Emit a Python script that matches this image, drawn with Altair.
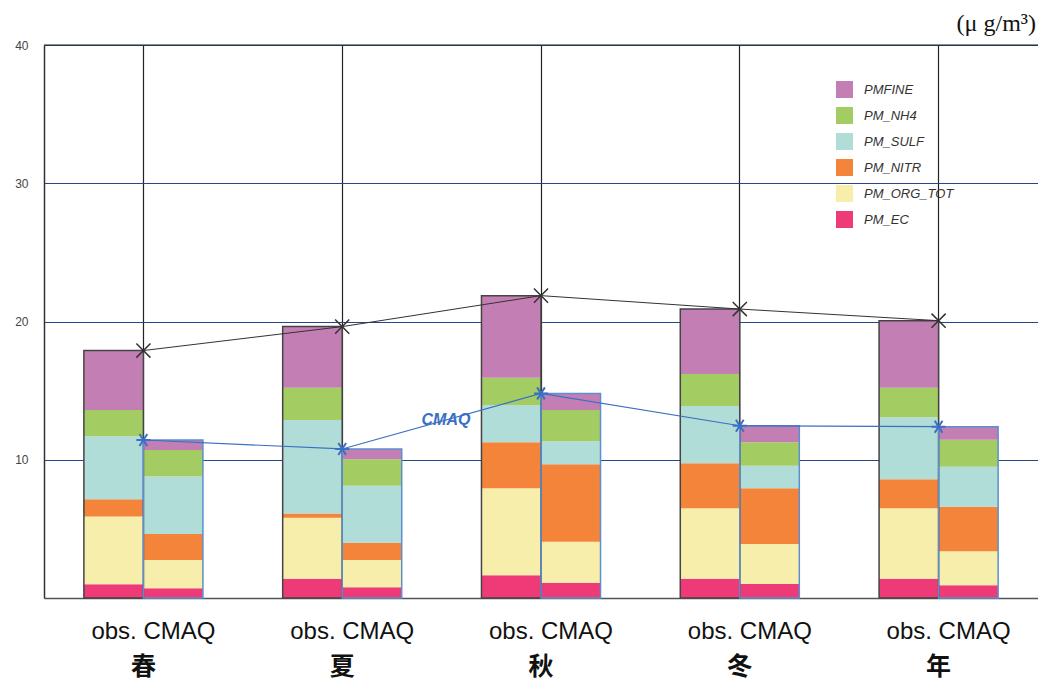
import altair as alt
import pandas as pd

seasons = ["春", "夏", "秋", "冬", "年"]
models = ["obs", "CMAQ"]
species = ["PM_EC", "PM_ORG_TOT", "PM_NITR", "PM_SULF", "PM_NH4", "PMFINE"]  # bottom -> top
legend_order = ["PMFINE", "PM_NH4", "PM_SULF", "PM_NITR", "PM_ORG_TOT", "PM_EC"]
legend_colors = ["#c37fb3", "#a3cd62", "#b0ddd8", "#f48439", "#f7eeac", "#ef3a78"]

obs_ec = [1.0, 1.4, 1.64, 1.4, 1.4]
obs_org = [4.9, 4.41, 6.29, 5.09, 5.09]
obs_nitr = [1.25, 0.31, 3.33, 3.25, 2.1]
obs_sulf = [4.55, 6.76, 2.70, 4.15, 4.48]
obs_nh4 = [1.9, 2.33, 1.98, 2.31, 2.14]
obs_fine = [4.3, 4.42, 5.93, 4.7, 4.85]

cmaq_ec = [0.7, 0.77, 1.11, 1.01, 0.92]
cmaq_org = [2.05, 1.98, 2.96, 2.9, 2.46]
cmaq_nitr = [1.88, 1.25, 5.6, 4.02, 3.22]
cmaq_sulf = [4.15, 4.12, 1.66, 1.64, 2.9]
cmaq_nh4 = [1.92, 1.91, 2.27, 1.69, 1.95]
cmaq_fine = [0.73, 0.75, 1.2, 1.2, 0.94]

obs = dict(zip(species, [obs_ec, obs_org, obs_nitr, obs_sulf, obs_nh4, obs_fine]))
cmaq = dict(zip(species, [cmaq_ec, cmaq_org, cmaq_nitr, cmaq_sulf, cmaq_nh4, cmaq_fine]))

rows, tot_rows = [], []
for i, s in enumerate(seasons):
    for m, d in (("obs", obs), ("CMAQ", cmaq)):
        base = 0.0
        for sp in species:
            v = d[sp][i]
            rows.append(dict(season=s, model=m, species=sp, y0=base, y1=base + v))
            base += v
        tot_rows.append(dict(season=s, model=m, total=round(base, 3)))
seg = pd.DataFrame(rows)
tot = pd.DataFrame(tot_rows)

xscale = alt.Scale(domain=seasons, paddingInner=0, paddingOuter=0)
xaxis = alt.Axis(title=None, bandPosition=0.5, grid=True, gridColor="#222222", gridWidth=1.2,
                 ticks=False, domain=True, domainColor="#555555", domainWidth=1.5,
                 labelFont="Noto Sans CJK JP", labelFontSize=25, labelFontWeight="bold",
                 labelColor="#111111", labelPadding=56, labelAngle=0)
X = alt.X("season:N", scale=xscale, axis=xaxis)
XO = alt.XOffset("model:N", scale=alt.Scale(domain=models, paddingInner=0, paddingOuter=0.67))

yscale = alt.Scale(domain=[0, 40], nice=False)
yaxis = alt.Axis(title=None, values=[10, 20, 30, 40], grid=True, gridColor="#23478a", gridWidth=1.2,
                 ticks=False, domain=True, domainColor="#333333", domainWidth=1.5,
                 labelFont="Liberation Sans", labelFontSize=12, labelColor="#444444",
                 labelPadding=16)

bars = alt.Chart(seg).mark_bar(strokeWidth=0).encode(
    x=X, xOffset=XO,
    y=alt.Y("y0:Q", scale=yscale, axis=yaxis), y2="y1:Q",
    color=alt.Color("species:N", scale=alt.Scale(domain=legend_order, range=legend_colors),
                    legend=alt.Legend(title=None, orient="none", legendX=792, legendY=36,
                                      symbolType="square", symbolSize=289, symbolStrokeWidth=0,
                                      symbolOpacity=1, labelFont="Liberation Sans",
                                      labelFontStyle="italic", labelFontSize=13,
                                      labelColor="#333333", rowPadding=9, labelOffset=11)),
)

outline = alt.Chart(tot).mark_bar(filled=False, strokeWidth=1.5).encode(
    x=X, xOffset=XO,
    y=alt.Y("total:Q", scale=yscale, axis=yaxis),
    stroke=alt.Stroke("model:N", scale=alt.Scale(domain=models, range=["#444444", "#5b8fd0"]),
                      legend=None),
)

obs_tot = tot[tot.model == "obs"]
cmaq_tot = tot[tot.model == "CMAQ"]

obs_line = alt.Chart(obs_tot).mark_line(color="#333333", strokeWidth=1).encode(
    x=X, y=alt.Y("total:Q", scale=yscale, axis=yaxis))
obs_pts = alt.Chart(obs_tot).mark_point(
    shape="M-1,-1L1,1M-1,1L1,-1", filled=False, color="#333333", strokeWidth=1.5, size=200,
    opacity=1).encode(x=X, y=alt.Y("total:Q", scale=yscale, axis=yaxis))

cmaq_line = alt.Chart(cmaq_tot).mark_line(color="#3a6fc4", strokeWidth=1.2).encode(
    x=X, y=alt.Y("total:Q", scale=yscale, axis=yaxis))
cmaq_pts = alt.Chart(cmaq_tot).mark_point(
    shape="M-1,0L1,0M-0.55,-0.85L0.55,0.85M-0.55,0.85L0.55,-0.85", filled=False,
    color="#3a6fc4", strokeWidth=2, size=200, opacity=1).encode(
    x=X, y=alt.Y("total:Q", scale=yscale, axis=yaxis))

top_rule = alt.Chart(pd.DataFrame({"v": [40]})).mark_rule(color="#222222", strokeWidth=1.2).encode(
    y=alt.Y("v:Q", scale=yscale, axis=yaxis))

pair_labels = alt.Chart(pd.DataFrame({"season": seasons, "t": ["obs. CMAQ"] * 5})).mark_text(
    font="Liberation Sans", fontSize=24, color="#111111", dx=10, baseline="middle").encode(
    x=X, y=alt.value(587), text="t:N")

cmaq_label = alt.Chart(pd.DataFrame({"v": [12.9], "t": ["CMAQ"]})).mark_text(
    font="Liberation Sans", fontSize=16, fontWeight="bold", fontStyle="italic",
    color="#3a6fc4", baseline="middle").encode(
    x=alt.value(402), y=alt.Y("v:Q", scale=yscale, axis=yaxis), text="t:N")

unit = alt.Chart(pd.DataFrame({"t": ["(μ g/m³)"]})).mark_text(
    font="Liberation Serif", fontSize=24, color="#111111", align="right", baseline="middle").encode(
    x=alt.value(992), y=alt.value(-21), text="t:N")

chart = alt.layer(
    bars, outline, top_rule, obs_line, cmaq_line, obs_pts, cmaq_pts, pair_labels, cmaq_label, unit
).properties(
    width=994, height=553,
    autosize=alt.AutoSizeParams(type="none"),
    padding={"left": 36, "top": 37, "right": 0, "bottom": 85},
).configure_view(stroke=None).configure(background="white")

chart.save("out.html", embed_options={"renderer": "svg", "actions": False})
